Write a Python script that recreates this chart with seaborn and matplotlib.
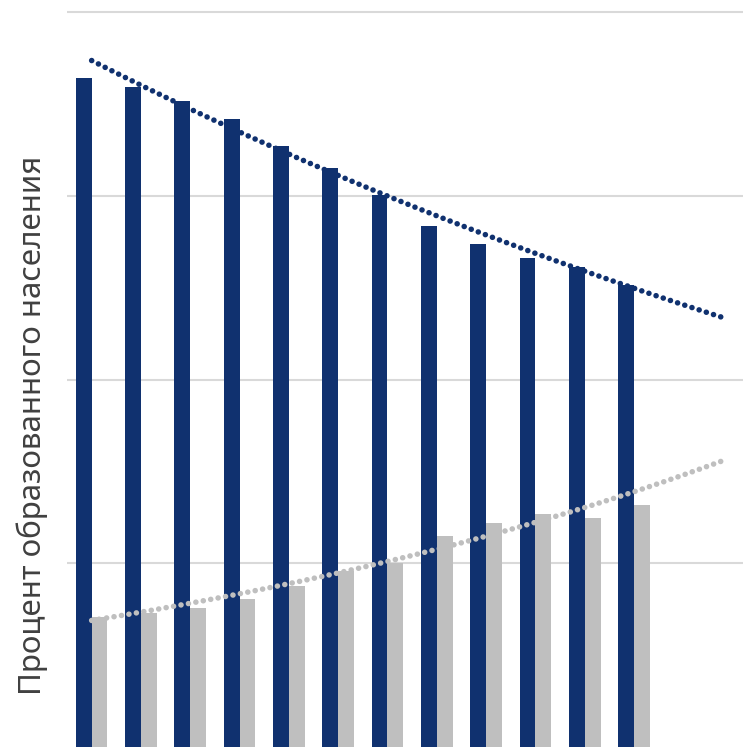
import matplotlib
matplotlib.use('Agg')
import matplotlib.pyplot as plt
import seaborn as sns
import numpy as np
import pandas as pd

# values (no axis labels, so percent is a guess of scale)
periods = [str(i) for i in range(1, 13)]
higher_edu = [72.8, 71.8, 70.3, 68.4, 65.4, 63.0, 60.1, 56.7, 54.7, 53.2, 52.2, 50.3]
lower_edu = [14.1, 14.6, 15.1, 16.1, 17.5, 19.2, 20.0, 23.0, 24.4, 25.4, 24.9, 26.3]
forecast_end = 12.9  # trend lines run past the last bar
y_ticks = [20, 40, 60, 80]

navy = '#10316F'
grey = '#BFBFBF'

sns.set_style('white')
plt.rcParams['font.family'] = ['Noto Sans', 'DejaVu Sans']

df = pd.DataFrame({
    'period': periods * 2,
    'value': higher_edu + lower_edu,
    'group': ['higher'] * len(periods) + ['lower'] * len(periods),
})

fig = plt.figure(figsize=(7.43, 7.47), dpi=100)
ax = fig.add_axes([67 / 743, 0, 676 / 743, 1])

sns.barplot(data=df, x='period', y='value', hue='group', palette=[navy, grey],
            width=0.64, gap=0, saturation=1, legend=False, linewidth=0,
            ax=ax, zorder=2)

# exponential trend lines, like the spreadsheet ones
xs = np.arange(len(periods))
x_line = np.linspace(0, forecast_end, 200)
for vals, col in [(higher_edu, navy), (lower_edu, grey)]:
    b, ln_a = np.polyfit(xs, np.log(vals), 1)
    ax.plot(x_line, np.exp(ln_a + b * x_line), color=col, lw=4.0,
            linestyle=(0, (0.01, 1.35)), dash_capstyle='round', zorder=3)

ax.set_xlim(-0.5, 13.21)
ax.set_ylim(0, 747 / 735 * 80)
ax.set_yticks(y_ticks)
ax.set_yticklabels([])
ax.set_xticks([])
ax.set_xlabel('')
ax.tick_params(length=0)
ax.grid(axis='y', color='#D9D9D9', lw=1.5, zorder=0)
ax.set_axisbelow(True)
sns.despine(ax=ax, left=True, bottom=True)

ax.set_ylabel('Процент образованного населения', fontsize=22.5, color='#404040',
              fontweight='light')
ax.yaxis.set_label_coords(-0.028, 0.43)

fig.savefig('out.png', dpi=100)
